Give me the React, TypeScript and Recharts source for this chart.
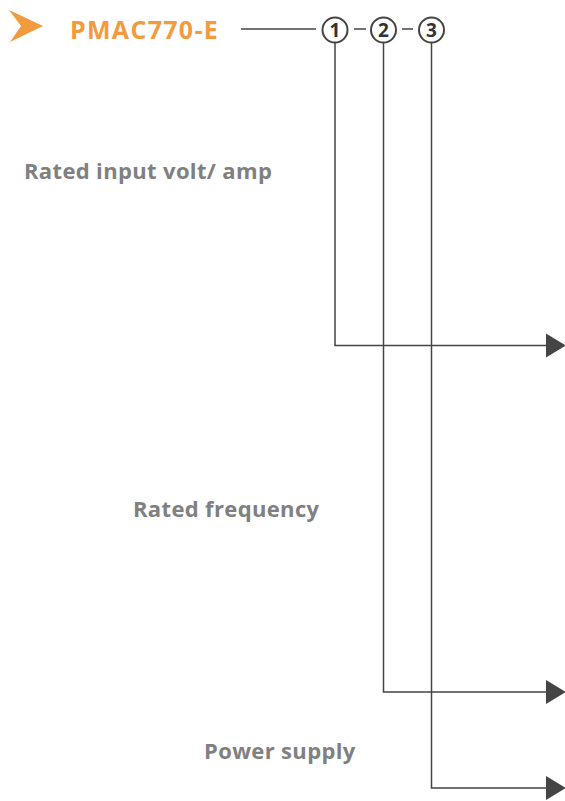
import React from "react"
import { ComposedChart, Line, Scatter, XAxis, YAxis } from "recharts"

// model code and its three fields
const modelName = "PMAC770-E"
const codes = ["1", "2", "3"]
const fields = ["Rated input volt/ amp", "Rated frequency", "Power supply"]

// diagram coordinates (x to the right, y downwards)
const codeX = [335, 383.5, 431.5]
const codeY = 30
const branchY = [345.5, 692, 788]
const arrowX = 546
const labelX = [24, 133, 204]
const labelY = [179, 517, 759]
const headerLine = [
  { x: 241, y: 29 },
  { x: 316, y: 29 },
]
const dashes = [
  [
    { x: 354, y: 29 },
    { x: 366, y: 29 },
  ],
  [
    { x: 402, y: 29 },
    { x: 413, y: 29 },
  ],
]

const W = 565
const H = 801
const LINE = "#444444"
const GRAY = "#808080"
const ORANGE = "#F29B3D"
const FONT = "'Open Sans', 'Noto Sans', sans-serif"
const R = 12.5

const codeData = codes.map((c, i) => ({ x: codeX[i], y: codeY, code: c }))
const labelData = fields.map((f, i) => ({ x: labelX[i], y: labelY[i], text: f }))
const titleData = [{ x: 70, y: 39, text: modelName }]

const branches = codes.map((_, i) => [
  { x: codeX[i], y: codeY + R },
  { x: codeX[i], y: branchY[i] },
  { x: arrowX, y: branchY[i] },
])

const ArrowDot = (props: any) => {
  const { cx, cy, index, points } = props
  if (index !== (points ? points.length - 1 : 2)) return <g key={`d${index}`} />
  return (
    <polygon
      key={`a${index}`}
      points={`${cx},${cy - 12} ${cx + 20},${cy} ${cx},${cy + 12}`}
      fill={LINE}
    />
  )
}

const CodeShape = (props: any) => {
  const { cx, cy, payload } = props
  return (
    <g>
      <circle cx={cx} cy={cy} r={R} fill="#fff" stroke={LINE} strokeWidth={2} />
      <text
        x={cx}
        y={cy + 6.5}
        textAnchor="middle"
        fontFamily={FONT}
        fontWeight={700}
        fontSize={19}
        fill="#333"
      >
        {payload.code}
      </text>
    </g>
  )
}

const LabelShape = (props: any) => {
  const { cx, cy, payload } = props
  return (
    <text
      x={cx}
      y={cy}
      fontFamily={FONT}
      fontWeight={700}
      fontSize={22}
      letterSpacing={0.35}
      fill={GRAY}
    >
      {payload.text}
    </text>
  )
}

const TitleShape = (props: any) => {
  const { cx, cy, payload } = props
  return (
    <g>
      <polygon
        points={`${cx - 61},${cy - 29} ${cx - 27},${cy - 13} ${cx - 60},${cy + 3} ${cx - 49},${cy - 13}`}
        fill={ORANGE}
      />
      <text
        x={cx}
        y={cy}
        fontFamily={FONT}
        fontWeight={700}
        fontSize={25}
        letterSpacing={1.3}
        fill={ORANGE}
      >
        {payload.text}
      </text>
    </g>
  )
}

export default function App() {
  return (
    <div style={{ position: "absolute", left: 0, top: 0, background: "#fff" }}>
      <ComposedChart width={W} height={H} margin={{ top: 0, right: 0, bottom: 0, left: 0 }}>
        <XAxis type="number" dataKey="x" domain={[0, W]} hide allowDataOverflow />
        <YAxis type="number" dataKey="y" domain={[0, H]} reversed hide allowDataOverflow />
        <Line
          data={headerLine}
          dataKey="y"
          type="linear"
          stroke={LINE}
          strokeWidth={1.5}
          dot={false}
          activeDot={false}
          isAnimationActive={false}
        />
        {dashes.map((d, i) => (
          <Line
            key={`dash${i}`}
            data={d}
            dataKey="y"
            type="linear"
            stroke={LINE}
            strokeWidth={1.5}
            dot={false}
            activeDot={false}
            isAnimationActive={false}
          />
        ))}
        {branches.map((b, i) => (
          <Line
            key={`br${i}`}
            data={b}
            dataKey="y"
            type="linear"
            stroke={LINE}
            strokeWidth={1.5}
            dot={ArrowDot}
            activeDot={false}
            isAnimationActive={false}
          />
        ))}
        <Scatter data={codeData} dataKey="y" shape={CodeShape} isAnimationActive={false} />
        <Scatter data={labelData} dataKey="y" shape={LabelShape} isAnimationActive={false} />
        <Scatter data={titleData} dataKey="y" shape={TitleShape} isAnimationActive={false} />
      </ComposedChart>
    </div>
  )
}
